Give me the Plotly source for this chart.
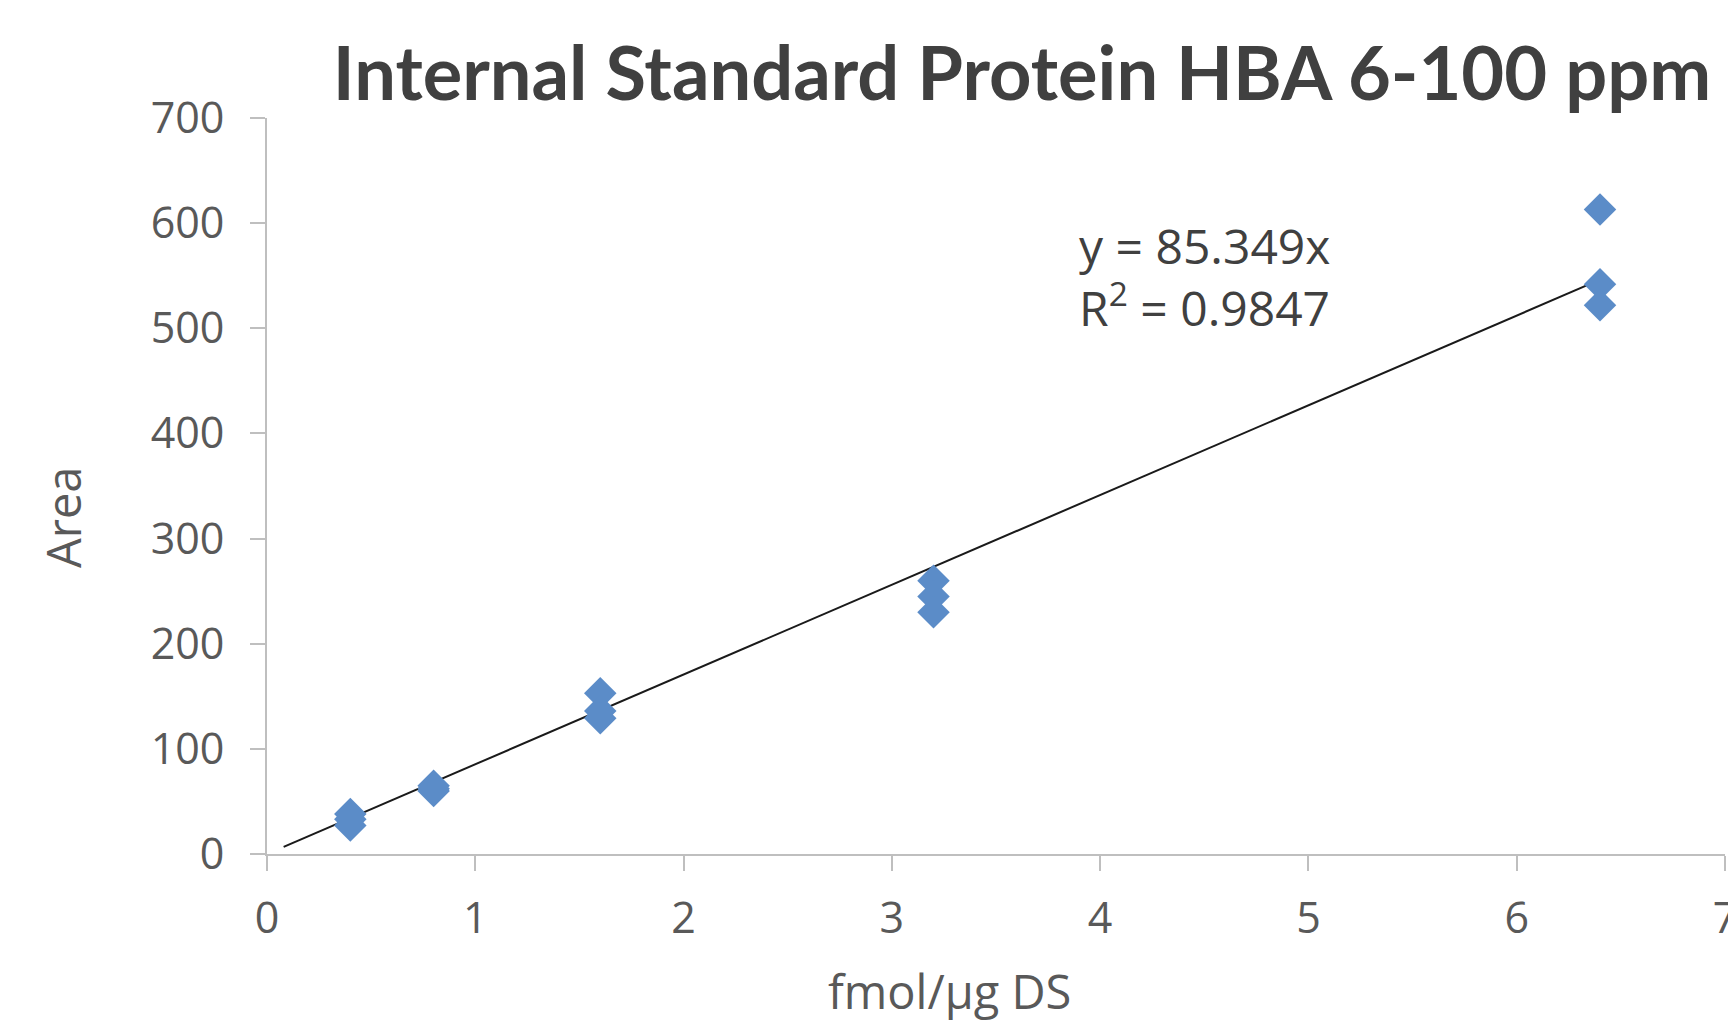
import plotly.graph_objects as go

# ---- data ----
conc_x = [0.4, 0.4, 0.4, 0.8, 0.8, 0.8, 1.6, 1.6, 1.6, 3.2, 3.2, 3.2, 6.4, 6.4, 6.4]
area_y = [38, 33, 27, 65, 62, 60, 153, 136, 129, 260, 245, 230, 613, 542, 522]
slope = 85.349
r_squared = 0.9847
trend_x = [0.08, 6.4]
x_ticks = [0, 1, 2, 3, 4, 5, 6, 7]
y_ticks = [0, 100, 200, 300, 400, 500, 600, 700]

title_text = "Internal Standard Protein HBA 6-100 ppm"
x_title = "fmol/µg DS"
y_title = "Area"

trend_y = [slope * v for v in trend_x]

fig = go.Figure()
fig.add_trace(go.Scatter(
    x=trend_x, y=trend_y, mode="lines",
    line=dict(color="#1a1a1a", width=2), showlegend=False, hoverinfo="skip"))
fig.add_trace(go.Scatter(
    x=conc_x, y=area_y, mode="markers",
    marker=dict(symbol="diamond", size=25, color="#5b8cc8", line=dict(width=0)),
    showlegend=False))

fig.add_annotation(
    x=3.89, y=549, xref="x", yref="y", xanchor="left", yanchor="middle",
    text=f"y = {slope}x<br>R<sup>2</sup> = {r_squared}", align="left",
    showarrow=False, font=dict(family="Open Sans", size=48, color="#404040"))

# axis titles placed as annotations (reference positions are off-centre)
fig.add_annotation(
    x=0.4684, y=-0.1855, xref="paper", yref="paper",
    xanchor="center", yanchor="middle", text=x_title, showarrow=False,
    font=dict(family="Open Sans", size=47, color="#595959"))
fig.add_annotation(
    x=-0.1399, y=0.4565, xref="paper", yref="paper",
    xanchor="center", yanchor="middle", text=y_title, showarrow=False,
    textangle=-90, font=dict(family="Open Sans", size=47, color="#595959"))

axis_common = dict(
    showgrid=False, zeroline=False, showline=True, linecolor="#bfbfbf", linewidth=2,
    ticks="outside", ticklen=15, tickcolor="#bfbfbf", tickwidth=2, automargin=False,
    tickfont=dict(family="Open Sans", size=43, color="#595959"),
)

fig.update_layout(
    width=1728, height=1025,
    margin=dict(l=267, r=3, t=118, b=171),
    paper_bgcolor="white", plot_bgcolor="white",
    title=dict(text=f"<b>{title_text}</b>", x=1022 / 1728, xanchor="center",
               y=1 - 74 / 1025, yanchor="middle",
               font=dict(family="Lato", size=74, color="#404040")),
    xaxis=dict(range=[0, 7], tickvals=x_ticks, ticklabelstandoff=10,
               ticklabeloverflow="allow", **axis_common),
    yaxis=dict(range=[0, 700], tickvals=y_ticks, ticklabelstandoff=17,
               **axis_common),
)

fig.write_html("out.html")
